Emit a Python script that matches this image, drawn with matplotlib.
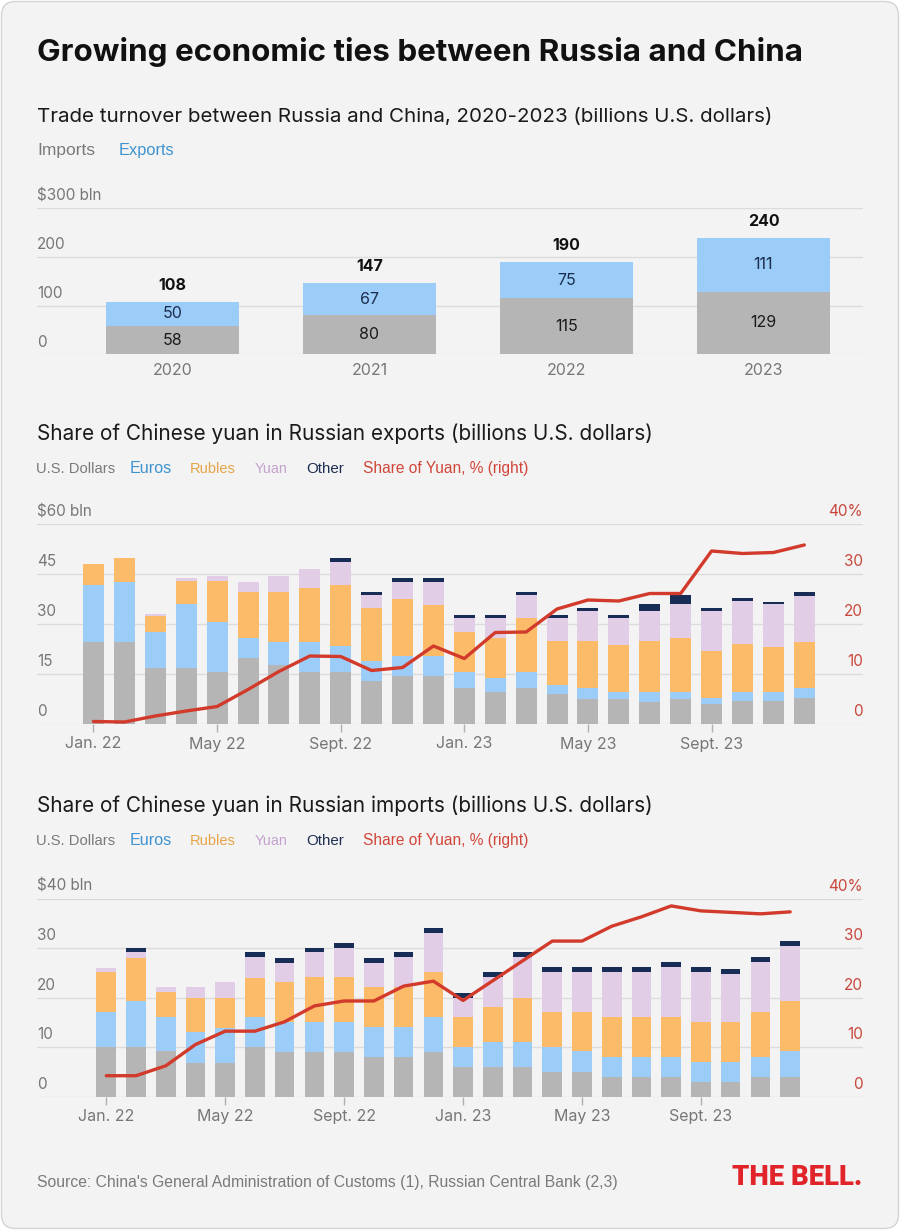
import matplotlib
matplotlib.use('Agg')
import matplotlib.pyplot as plt
from matplotlib.patches import FancyBboxPatch
from matplotlib.transforms import IdentityTransform
import numpy as np

plt.rcParams['font.family'] = ['Inter', 'DejaVu Sans']

# ---------------- data ----------------
years = ['2020', '2021', '2022', '2023']
trade_imports = [58, 80, 115, 129]
trade_exports = [50, 67, 75, 111]

tick_idx = [0, 4, 8, 12, 16, 20]
tick_labels = ['Jan. 22', 'May 22', 'Sept. 22', 'Jan. 23', 'May 23', 'Sept. 23']

# Exports (billions USD) by currency, Jan 2022 - Dec 2023
exp_usd = [24.7, 24.7, 16.7, 16.7, 15.7, 19.7, 17.7, 15.7, 15.7, 12.9, 14.5, 14.5,
           10.9, 9.5, 10.9, 8.9, 7.5, 7.5, 6.7, 7.5, 6.0, 6.9, 6.9, 7.7]
exp_eur = [17.0, 18.0, 10.8, 19.2, 14.8, 6.0, 7.0, 9.0, 7.7, 6.0, 6.0, 6.0,
           4.8, 4.2, 4.8, 2.8, 3.2, 2.2, 3.0, 2.2, 1.7, 2.6, 2.6, 3.0]
exp_rub = [6.2, 7.0, 4.9, 7.0, 12.4, 14.0, 15.0, 16.0, 18.3, 15.8, 17.0, 15.2,
           12.0, 12.0, 16.2, 13.2, 14.2, 14.0, 15.2, 16.0, 14.2, 14.4, 13.6, 14.0]
exp_cny = [0.0, 0.0, 0.5, 0.8, 1.6, 3.0, 4.8, 5.8, 7.0, 4.0, 5.2, 7.0,
           4.0, 6.0, 6.8, 6.8, 9.0, 8.0, 9.0, 10.2, 12.0, 13.0, 12.8, 13.8]
exp_other = [0.0, 0.0, 0.0, 0.0, 0.0, 0.0, 0.0, 0.0, 1.0, 1.0, 1.0, 1.0,
             1.0, 1.0, 1.0, 1.0, 1.0, 1.0, 2.0, 2.8, 1.0, 0.8, 0.8, 1.0]
exp_share = [0.5, 0.4, 1.6, 2.6, 3.5, 6.9, 10.5, 13.6, 13.5, 10.7, 11.3, 15.6,
             13.1, 18.3, 18.4, 23.0, 24.8, 24.6, 26.1, 26.1, 34.6, 34.1, 34.3, 35.8]

# Imports (billions USD) by currency, Jan 2022 - Dec 2023
imp_usd = [9.9, 9.9, 9.1, 6.8, 6.8, 9.9, 8.9, 8.9, 8.9, 7.9, 7.9, 8.9,
           6.0, 6.0, 6.0, 5.0, 5.0, 3.9, 3.9, 3.9, 3.0, 3.0, 3.9, 3.9]
imp_eur = [7.2, 9.3, 7.0, 6.3, 7.0, 6.2, 6.2, 6.2, 6.2, 6.2, 6.2, 7.2,
           4.1, 5.1, 5.1, 5.1, 4.1, 4.1, 4.1, 4.1, 4.0, 4.0, 4.1, 5.2]
imp_rub = [8.1, 8.7, 5.1, 6.9, 6.2, 7.9, 8.0, 9.0, 9.0, 8.0, 8.0, 9.1,
           6.0, 6.9, 8.9, 7.0, 8.0, 8.1, 8.1, 8.1, 8.0, 8.0, 9.1, 10.1]
imp_cny = [0.8, 1.2, 0.9, 2.1, 3.1, 4.1, 3.9, 5.0, 6.0, 4.9, 6.0, 7.9,
           3.9, 6.1, 8.1, 8.0, 8.0, 9.0, 9.0, 10.0, 10.1, 9.7, 10.0, 11.3]
imp_other = [0.0, 1.0, 0.0, 0.0, 0.0, 1.0, 1.0, 1.0, 1.0, 1.0, 1.0, 1.0,
             0.9, 1.0, 1.0, 1.0, 1.0, 1.0, 1.0, 1.0, 1.0, 1.0, 1.0, 1.0]
imp_share = [4.2, 4.2, 6.2, 10.5, 13.2, 13.2, 15.1, 18.3, 19.3, 19.3, 22.3, 23.3,
             19.4, 23.4, 27.4, 31.4, 31.4, 34.4, 36.3, 38.5, 37.5, 37.2, 36.9, 37.3]

# ---------------- style ----------------
C_GRAY = '#b5b5b5'
C_BLUE = '#9ccdf9'
C_ORANGE = '#fcbb69'
C_LILAC = '#e1cee6'
C_NAVY = '#182d56'
C_RED = '#d23a2b'
C_GRID = '#dcdcdc'
C_TICK = '#777777'
C_RTICK = '#c8483d'
BG = '#f3f3f3'
SMALL_FONT = ['Liberation Sans', 'DejaVu Sans']

W, H = 900, 1230
fig = plt.figure(figsize=(W / 100, H / 100), dpi=100, facecolor='white')
card = FancyBboxPatch((1.5, 1.5), W - 3, H - 3,
                      boxstyle='round,pad=0,rounding_size=14',
                      transform=IdentityTransform(), facecolor=BG,
                      edgecolor='#d4d4d4', lw=1, zorder=-10)
fig.patches.append(card)

renderer = fig.canvas.get_renderer()


def fpos(x_px, y_px):
    return x_px / W, 1 - y_px / H


def fit_text(x_px, y_px, s, width_px, size0=12, **kw):
    t = fig.text(*fpos(x_px, y_px), s, fontsize=size0, ha='left', va='baseline', **kw)
    for _ in range(3):
        w = t.get_window_extent(renderer).width
        t.set_fontsize(t.get_fontsize() * width_px / w)
    return t


def make_ax(left, right, y0, ytop):
    ax = fig.add_axes([left / W, 1 - y0 / H, (right - left) / W, (y0 - ytop) / H])
    ax.set_facecolor('none')
    for s in ax.spines.values():
        s.set_visible(False)
    return ax


def ylabels(ax, values, labels, x=0, ha='left', color=C_TICK, trans=None):
    trans = trans or ax.get_yaxis_transform()
    for v, l in zip(values, labels):
        ax.annotate(l, (x, v), xycoords=trans, xytext=(0, 5.5),
                    textcoords='offset points', ha=ha, va='baseline',
                    fontsize=11, color=color)


# ---------------- titles ----------------
fit_text(37, 61, 'Growing economic ties between Russia and China', 766, 22,
         weight='bold', color='#111111')
fit_text(37, 122, 'Trade turnover between Russia and China, 2020-2023 (billions U.S. dollars)',
         736, 15, color='#1a1a1a')
fit_text(37, 155, 'Imports', 58, 11, color='#7a7a7a', family=SMALL_FONT)
fit_text(119, 155, 'Exports', 56, 11, color='#3f93d0', family=SMALL_FONT)

# ---------------- top chart ----------------
ax = make_ax(37, 863, 354.3, 208.3)
x = np.arange(len(years))
ax.bar(x, trade_imports, 0.675, color=C_GRAY, lw=0, zorder=2)
ax.bar(x, trade_exports, 0.675, bottom=trade_imports, color=C_BLUE, lw=0, zorder=2)
ax.set_xlim(-0.687, 3.505)
ax.set_ylim(0, 300)
ax.set_yticks([0, 100, 200, 300])
ax.yaxis.grid(True, color=C_GRID, lw=1)
ax.set_axisbelow(True)
ax.tick_params(axis='y', length=0, labelleft=False)
ax.set_xticks(x, years)
ax.tick_params(axis='x', length=0, pad=6, labelsize=11.5, labelcolor=C_TICK)
ylabels(ax, [0, 100, 200, 300], ['0', '100', '200', '$300 bln'])
for i, (im, ex) in enumerate(zip(trade_imports, trade_exports)):
    ax.text(i, im / 2, str(im), ha='center', va='center', fontsize=11.5, color='#1a1a1a')
    ax.text(i, im + ex / 2, str(ex), ha='center', va='center', fontsize=11.5, color='#1c2c4c')
    ax.annotate(str(im + ex), (i, im + ex), xytext=(0, 11.5), textcoords='offset points',
                ha='center', va='center', fontsize=11.5, weight='bold', color='#111111')


# ---------------- monthly charts ----------------
def monthly(y0, ytop, xlim, barw, usd, eur, rub, cny, oth, share, ymax, ystep, top_label):
    ax = make_ax(37, 863, y0, ytop)
    xs = np.arange(len(usd))
    bottom = np.zeros(len(usd))
    for vals, col in zip([usd, eur, rub, cny, oth], [C_GRAY, C_BLUE, C_ORANGE, C_LILAC, C_NAVY]):
        vals = np.array(vals, dtype=float)
        ax.bar(xs, vals, barw, bottom=bottom, color=col, lw=0, zorder=2)
        bottom += vals
    ax.set_xlim(*xlim)
    ax.set_ylim(0, ymax)
    yt = list(range(0, ymax + 1, ystep))
    ax.set_yticks(yt)
    ax.yaxis.grid(True, color=C_GRID, lw=1)
    ax.set_axisbelow(True)
    ax.tick_params(axis='y', length=0, labelleft=False)
    ax.set_xticks(tick_idx, tick_labels)
    ax.tick_params(axis='x', length=6, width=1, color='#b0b0b0', pad=3,
                   labelsize=11.5, labelcolor=C_TICK)
    ylabels(ax, yt, [str(v) for v in yt[:-1]] + [top_label])
    ax2 = ax.twinx()
    ax2.set_ylim(0, 40)
    for s in ax2.spines.values():
        s.set_visible(False)
    ax2.set_yticks([])
    ax2.plot(xs, share, color=C_RED, lw=2.4, solid_joinstyle='round',
             solid_capstyle='round', zorder=5)
    ylabels(ax2, [0, 10, 20, 30, 40], ['0', '10', '20', '30', '40%'], x=1, ha='right',
            color=C_RTICK, trans=ax2.get_yaxis_transform())
    return ax


def legend_row(yb):
    items = [('U.S. Dollars', 36, 115, '#7a7a7a'), ('Euros', 130, 172, '#3f93d0'),
             ('Rubles', 190, 236, '#e6a447'), ('Yuan', 255, 288, '#c4a2cd'),
             ('Other', 306, 344, '#1e2f52'),
             ('Share of Yuan, % (right)', 363, 529, '#d2463a')]
    for s, x0, x1, c in items:
        fit_text(x0, yb, s, x1 - x0, 11, color=c, family=SMALL_FONT)


fit_text(37, 440, 'Share of Chinese yuan in Russian exports (billions U.S. dollars)', 615, 15,
         color='#1a1a1a')
legend_row(473)
monthly(724, 524, (-1.828, 24.9), 0.68, exp_usd, exp_eur, exp_rub, exp_cny, exp_other,
        exp_share, 60, 15, '$60 bln')

fit_text(37, 812.5, 'Share of Chinese yuan in Russian imports (billions U.S. dollars)', 615, 15,
         color='#1a1a1a')
legend_row(845)
monthly(1096.5, 898.5, (-2.33, 25.45), 0.66, imp_usd, imp_eur, imp_rub, imp_cny, imp_other,
        imp_share, 40, 10, '$40 bln')

# ---------------- footer ----------------
fit_text(37, 1186.5, "Source: China's General Administration of Customs (1), Russian Central Bank (2,3)",
         580, 11, color='#7a7a7a', family=SMALL_FONT)
fit_text(732, 1185, 'THE BELL.', 130, 20, weight='black', color='#e1242a',
         family=['Roboto', 'DejaVu Sans'])

fig.savefig('out.png', dpi=100, facecolor=fig.get_facecolor())
